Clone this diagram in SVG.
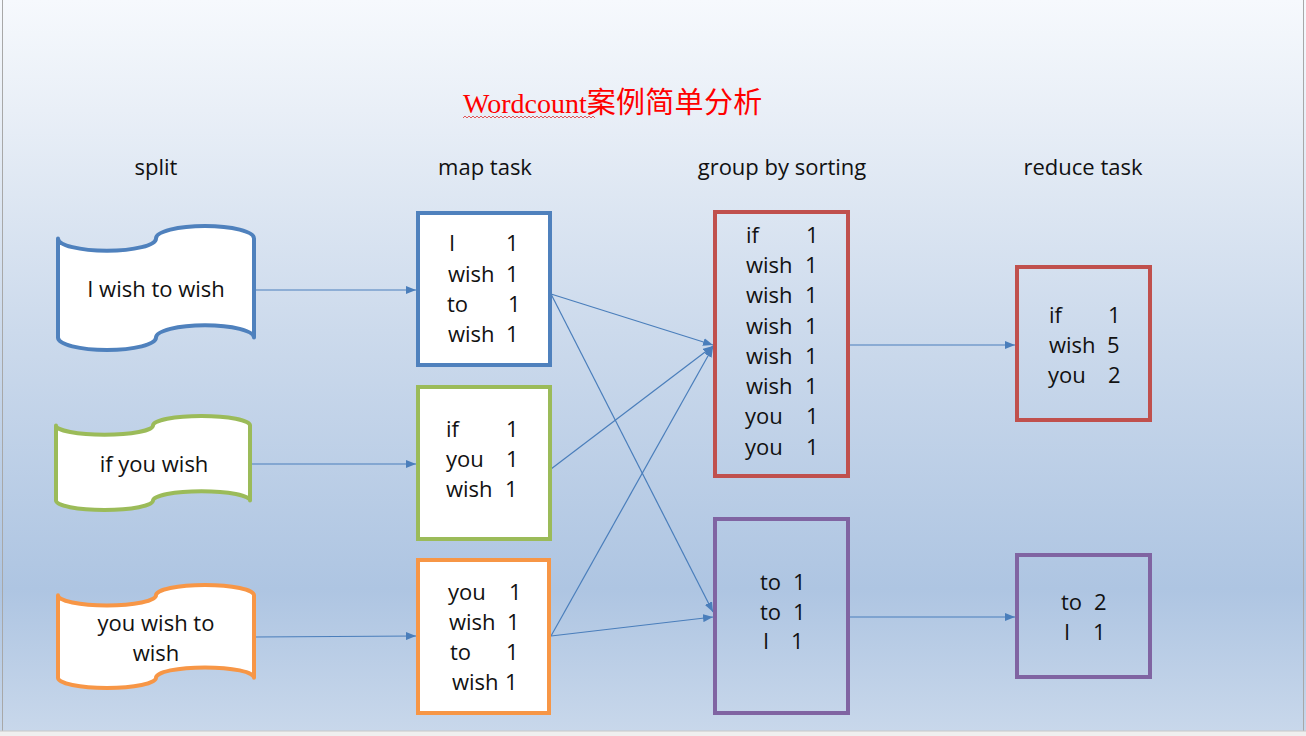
<svg xmlns="http://www.w3.org/2000/svg" width="1306" height="736" viewBox="0 0 1306 736">
  <defs>
    <linearGradient id="bg" x1="0" y1="0" x2="0" y2="1">
      <stop offset="0" stop-color="#f6f9fd"/>
      <stop offset="0.15" stop-color="#e9eff7"/>
      <stop offset="0.45" stop-color="#ccdaec"/>
      <stop offset="0.8" stop-color="#aec5e2"/>
      <stop offset="1" stop-color="#c9d8eb"/>
    </linearGradient>
    <marker id="arr" markerUnits="userSpaceOnUse" markerWidth="10" markerHeight="8" refX="10" refY="4" orient="auto">
      <path d="M0,0 L10,4 L0,8 z" fill="#4a7ebb"/>
    </marker>
  </defs>
  <style>
    .t { font-family: "Open Sans", "Liberation Sans", sans-serif; font-size: 22px; fill: #111; }
    .c { text-anchor: middle; }
    .shape { stroke-width: 4; fill: #fff; stroke-linejoin: round; }
    .box { stroke-width: 4; }
    .conn line { stroke: #4a7ebb; stroke-width: 1.2; marker-end: url(#arr); }
  </style>

  <rect x="0" y="0" width="1306" height="736" fill="url(#bg)"/>
  <line x1="2.5" y1="0" x2="2.5" y2="731" stroke="#a8a8a8" stroke-width="1"/>
  <line x1="1303.5" y1="0" x2="1303.5" y2="731" stroke="#a8a8a8" stroke-width="1"/>
  <rect x="0" y="731" width="1306" height="5" fill="#efefef"/>
  <line x1="0" y1="731" x2="1306" y2="731" stroke="#c8c8c8" stroke-width="1"/>

  <g id="title">
    <text x="463" y="113" font-family="'Liberation Serif', 'Noto Sans CJK SC', serif" font-size="28" fill="#ff0000">Wordcount<tspan font-size="29" letter-spacing="0.3">案例简单分析</tspan></text>
    <path d="M463,118 l2,-2 l2,2 l2,-2 l2,2 l2,-2 l2,2 l2,-2 l2,2 l2,-2 l2,2 l2,-2 l2,2 l2,-2 l2,2 l2,-2 l2,2 l2,-2 l2,2 l2,-2 l2,2 l2,-2 l2,2 l2,-2 l2,2 l2,-2 l2,2 l2,-2 l2,2 l2,-2 l2,2 l2,-2 l2,2 l2,-2 l2,2 l2,-2 l2,2 l2,-2 l2,2 l2,-2 l2,2 l2,-2 l2,2 l2,-2 l2,2 l2,-2 l2,2 l2,-2 l2,2 l2,-2 l2,2 l2,-2 l2,2 l2,-2 l2,2 l2,-2 l2,2 l2,-2 l2,2 l2,-2 l2,2 l2,-2 l2,2 l2,-2 l2,2 l2,-2 l2,2" fill="none" stroke="#e03030" stroke-width="0.8"/>
  </g>

  <g id="headings">
    <text class="t c" x="156" y="175">split</text>
    <text class="t c" x="485" y="175">map task</text>
    <text class="t c" x="782" y="175">group by sorting</text>
    <text class="t c" x="1083" y="175">reduce task</text>
  </g>

  <g class="conn" id="connectors">
    <line x1="254" y1="290" x2="416" y2="290"/>
    <line x1="250" y1="464" x2="416" y2="464"/>
    <line x1="254" y1="637" x2="416" y2="636"/>
    <line x1="551" y1="294" x2="713" y2="345"/>
    <line x1="551" y1="294" x2="713" y2="612"/>
    <line x1="551" y1="469" x2="713" y2="346"/>
    <line x1="551" y1="636" x2="713" y2="347"/>
    <line x1="551" y1="636" x2="713" y2="617"/>
    <line x1="848" y1="345" x2="1015" y2="345"/>
    <line x1="848" y1="617" x2="1015" y2="617"/>
  </g>

  <g id="split1">
    <path class="shape" stroke="#4f81bd" d="M58,238.4 A49,12.4 0 0 0 156,238.4 A49,12.4 0 0 1 254,238.4 L254,337.6 A49,12.4 0 0 0 156,337.6 A49,12.4 0 0 1 58,337.6 Z"/>
    <text class="t c" x="156" y="297">I wish to wish</text>
  </g>
  <g id="split2">
    <path class="shape" stroke="#9bbb59" d="M56,425.4 A48.5,9.4 0 0 0 153,425.4 A48.5,9.4 0 0 1 250,425.4 L250,500.6 A48.5,9.4 0 0 0 153,500.6 A48.5,9.4 0 0 1 56,500.6 Z"/>
    <text class="t c" x="154" y="472">if you wish</text>
  </g>
  <g id="split3">
    <path class="shape" stroke="#f79646" d="M58,595.3 A49,10.3 0 0 0 156,595.3 A49,10.3 0 0 1 254,595.3 L254,677.7 A49,10.3 0 0 0 156,677.7 A49,10.3 0 0 1 58,677.7 Z"/>
    <text class="t c" x="156" y="631">you wish to</text>
    <text class="t c" x="156" y="661">wish</text>
  </g>

  <g id="map1">
    <rect class="box" x="418" y="213" width="132" height="152" fill="#fff" stroke="#4f81bd"/>
    <text class="t" y="251"><tspan x="449">I</tspan><tspan x="506">1</tspan></text>
    <text class="t" y="282"><tspan x="448">wish</tspan><tspan x="506">1</tspan></text>
    <text class="t" y="312"><tspan x="447">to</tspan><tspan x="508">1</tspan></text>
    <text class="t" y="342"><tspan x="448">wish</tspan><tspan x="506">1</tspan></text>
  </g>
  <g id="map2">
    <rect class="box" x="418" y="387" width="132" height="152" fill="#fff" stroke="#9bbb59"/>
    <text class="t" y="437"><tspan x="446">if</tspan><tspan x="506">1</tspan></text>
    <text class="t" y="467"><tspan x="446">you</tspan><tspan x="506">1</tspan></text>
    <text class="t" y="497"><tspan x="446">wish</tspan><tspan x="505">1</tspan></text>
  </g>
  <g id="map3">
    <rect class="box" x="418" y="560" width="131" height="153" fill="#fff" stroke="#f79646"/>
    <text class="t" y="600"><tspan x="448">you</tspan><tspan x="509">1</tspan></text>
    <text class="t" y="630"><tspan x="449">wish</tspan><tspan x="507">1</tspan></text>
    <text class="t" y="660"><tspan x="450">to</tspan><tspan x="506">1</tspan></text>
    <text class="t" y="690"><tspan x="452">wish</tspan><tspan x="505">1</tspan></text>
  </g>

  <g id="group1">
    <rect class="box" x="715" y="212" width="133" height="264" fill="none" stroke="#c0504d"/>
    <text class="t" y="243"><tspan x="746">if</tspan><tspan x="806">1</tspan></text>
    <text class="t" y="273"><tspan x="746">wish</tspan><tspan x="805">1</tspan></text>
    <text class="t" y="303"><tspan x="746">wish</tspan><tspan x="805">1</tspan></text>
    <text class="t" y="334"><tspan x="746">wish</tspan><tspan x="805">1</tspan></text>
    <text class="t" y="364"><tspan x="746">wish</tspan><tspan x="805">1</tspan></text>
    <text class="t" y="394"><tspan x="746">wish</tspan><tspan x="805">1</tspan></text>
    <text class="t" y="424"><tspan x="745">you</tspan><tspan x="806">1</tspan></text>
    <text class="t" y="455"><tspan x="745">you</tspan><tspan x="806">1</tspan></text>
  </g>
  <g id="group2">
    <rect class="box" x="715" y="519" width="133" height="194" fill="none" stroke="#8064a2"/>
    <text class="t" y="590"><tspan x="760">to</tspan><tspan x="793">1</tspan></text>
    <text class="t" y="620"><tspan x="760">to</tspan><tspan x="793">1</tspan></text>
    <text class="t" y="649"><tspan x="763">I</tspan><tspan x="791">1</tspan></text>
  </g>

  <g id="reduce1">
    <rect class="box" x="1017" y="267" width="133" height="153" fill="none" stroke="#c0504d"/>
    <text class="t" y="323"><tspan x="1049">if</tspan><tspan x="1108">1</tspan></text>
    <text class="t" y="353"><tspan x="1049">wish</tspan><tspan x="1107">5</tspan></text>
    <text class="t" y="383"><tspan x="1048">you</tspan><tspan x="1108">2</tspan></text>
  </g>
  <g id="reduce2">
    <rect class="box" x="1017" y="555" width="133" height="122" fill="none" stroke="#8064a2"/>
    <text class="t" y="610"><tspan x="1061">to</tspan><tspan x="1094">2</tspan></text>
    <text class="t" y="640"><tspan x="1064">I</tspan><tspan x="1093">1</tspan></text>
  </g>
</svg>
